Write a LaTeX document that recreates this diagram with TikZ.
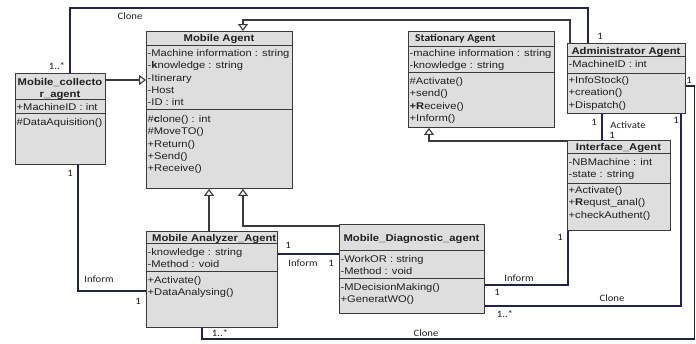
\documentclass[tikz,border=0pt]{standalone}
\usepackage{fontspec}
\setmainfont{Liberation Sans}[FakeStretch=1.15]
\newfontfamily\lblfont{Carlito}[FakeStretch=1.1]
\usetikzlibrary{arrows.meta}
\definecolor{boxfill}{HTML}{DEDEDE}
\definecolor{boxline}{HTML}{3A3A3A}
\definecolor{navy}{HTML}{1E2352}
\definecolor{txt}{HTML}{202020}
\tikzset{
  umlbox/.style={draw=boxline, fill=boxfill, line width=0.9pt, inner sep=0pt, anchor=north west},
  sepline/.style={draw=boxline, line width=0.9pt},
  hdr/.style={font=\fontsize{9.8}{11.5}\selectfont\bfseries, text=txt, inner sep=0pt, align=center},
  body/.style={font=\fontsize{9.7}{12.3}\selectfont, text=txt, inner sep=0pt, anchor=north west, align=left},
  assoc/.style={draw=navy, line width=1.1pt},
  gen/.style={draw=boxline, line width=1.1pt, -{Triangle[open,length=7pt,width=10pt,fill=white]}},
  lbl/.style={font=\lblfont\fontsize{9.7}{10}\selectfont, text=txt, inner sep=0pt},
}
\begin{document}
\begin{tikzpicture}[x=1pt,y=-1pt]
\useasboundingbox[fill=white] (0,0) rectangle (696,343);

% boxes as named nodes
\node[umlbox, minimum width=90pt,  minimum height=91pt] (mc) at (15,73) {};
\node[umlbox, minimum width=146pt, minimum height=157pt] (ma) at (146,31) {};
\node[umlbox, minimum width=146pt, minimum height=96pt] (sa) at (408,31) {};
\node[umlbox, minimum width=118pt, minimum height=70pt] (ad) at (567,43) {};
\node[umlbox, minimum width=103pt, minimum height=90pt] (ia) at (567,140) {};
\node[umlbox, minimum width=131pt, minimum height=96pt] (an) at (146,231) {};
\node[umlbox, minimum width=145pt, minimum height=89pt] (md) at (339,224) {};

% Clone: collector -> administrator (top)
\draw[assoc] ([xshift=55pt]mc.north west) -- ++(0,-65) -| ([xshift=21pt]ad.north west);
% generalization: administrator -> mobile agent
\draw[gen] ([xshift=3pt]ad.north west) -- ++(0,-23) -| ([xshift=97pt]ma.north west);
% generalization: collector -> mobile agent
\draw[gen] ([yshift=-7pt]mc.north east) -- ([yshift=-49pt]ma.north west);
% Inform: collector -> analyzer
\draw[assoc] ([xshift=63pt]mc.south west) |- ([yshift=-60pt]an.north west);
% generalization: analyzer -> mobile agent
\draw[gen] ([xshift=63pt]an.north west) -- ([xshift=63pt]ma.south west);
% generalization: diagnostic -> mobile agent
\draw[gen] ([yshift=-2pt]md.north west) -| ([xshift=97pt]ma.south west);
% Inform: analyzer -- diagnostic
\draw[assoc] ([yshift=-23pt]an.north east) -- ([yshift=-30pt]md.north west);
% Inform: diagnostic -- interface
\draw[assoc] ([yshift=-61pt]md.north east) -| ([xshift=1pt]ia.south west);
% Clone: diagnostic -- administrator
\draw[assoc] ([yshift=-82pt]md.north east) -| ([xshift=114pt]ad.south west);
% Activate: administrator -- interface
\draw[assoc] ([xshift=35pt]ad.south west) -- ([xshift=35pt]ia.north west);
% Clone: administrator -- analyzer (around the right and bottom)
\coordinate (rc) at (694.5,339);
\draw[assoc] ([yshift=-43pt]ad.north east) -| (rc) -| ([xshift=56pt]an.south west);
% generalization: interface -> stationary
\draw[gen] ([yshift=-1pt]ia.north west) -| ([xshift=21pt]sa.south west);

% redraw boxes on top of connectors
\node[umlbox, minimum width=90pt,  minimum height=91pt] (mcb) at (15,73) {};
\node[umlbox, minimum width=146pt, minimum height=157pt] (mab) at (146,31) {};
\node[umlbox, minimum width=146pt, minimum height=96pt] (sab) at (408,31) {};
\node[umlbox, minimum width=118pt, minimum height=70pt] (adb) at (567,43) {};
\node[umlbox, minimum width=103pt, minimum height=90pt] (iab) at (567,140) {};
\node[umlbox, minimum width=131pt, minimum height=96pt] (anb) at (146,231) {};
\node[umlbox, minimum width=145pt, minimum height=89pt] (mdb) at (339,224) {};

% compartments
\draw[sepline] (15,99) -- (105,99);   \draw[sepline] (15,113) -- (105,113);
\draw[sepline] (146,45) -- (292,45);  \draw[sepline] (146,109) -- (292,109);
\draw[sepline] (408,46) -- (554,46);  \draw[sepline] (408,72) -- (554,72);
\draw[sepline] (567,56) -- (685,56);  \draw[sepline] (567,73) -- (685,73);
\draw[sepline] (567,153) -- (670,153); \draw[sepline] (567,183) -- (670,183);
\draw[sepline] (146,243) -- (277,243); \draw[sepline] (146,271) -- (277,271);
\draw[sepline] (339,250) -- (484,250); \draw[sepline] (339,278) -- (484,278);

% Mobile_collector_agent
\node[hdr, anchor=north] (mc-h) at (60,78.2) {Mobile\_collecto\\r\_agent};
\node[body] (mc-a) at (16.5,103.4) {+MachineID : int};
\node[body] (mc-m) at (16.5,118.4) {\#DataAquisition()};
% Mobile Agent
\node[hdr, anchor=base] (ma-h) at (219,41.4) {Mobile Agent};
\node[body] (ma-a) at (147.5,49.4) {-Machine information : string\\-\textbf{k}nowledge : string\\-Itinerary\\-Host\\-ID : int};
\node[body] (ma-m) at (147.5,115.4) {\#\textbf{c}lone() : int\\\#MoveTO()\\+Return()\\+Send()\\+Receive()};
% Stationary Agent
\node[hdr, anchor=base west, font=\lblfont\fontsize{10.5}{12}\selectfont\bfseries] (sa-h) at (415,41.4) {Stationary Agent};
\node[body] (sa-a) at (409.5,49.4) {-machine information : string\\-knowledge : string};
\node[body] (sa-m) at (409.5,77.4) {\#Activate()\\+send()\\\textbf{+R}eceive()\\+Inform()};
% Administrator Agent
\node[hdr, anchor=base] (ad-h) at (626,54.4) {Administrator Agent};
\node[body] (ad-a) at (568.5,60.4) {-MachineID : int};
\node[body] (ad-m) at (568.5,76.4) {+InfoStock()\\+creation()\\+Dispatch()};
% Interface_Agent
\node[hdr, anchor=base] (ia-h) at (618.5,150.4) {Interface\_Agent};
\node[body] (ia-a) at (568.5,158.4) {-NBMachine : int\\-state : string};
\node[body] (ia-m) at (568.5,186.4) {+Activate()\\+\textbf{R}equst\_anal()\\+checkAuthent()};
% Mobile Analyzer_Agent
\node[hdr, anchor=base west] (an-h) at (152,241.4) {Mobile Analyzer\_Agent};
\node[body] (an-a) at (147.5,248.4) {-knowledge : string\\-Method : void};
\node[body] (an-m) at (147.5,276.4) {+Activate()\\+DataAnalysing()};
% Mobile_Diagnostic_agent
\node[hdr, anchor=base] (md-h) at (411.5,241.4) {Mobile\_Diagnostic\_agent};
\node[body] (md-a) at (340.5,255.4) {-WorkOR : string\\-Method : void};
\node[body] (md-m) at (340.5,283.4) {-MDecisionMaking()\\+GeneratWO()};

% connector labels
\node[lbl] (l1) at (130,16) {Clone};
\node[lbl] (l2) at (57,66) {1..*};
\node[lbl] (l3) at (600,36) {1};
\node[lbl] (l4) at (70,173) {1};
\node[lbl] (l5) at (99,279) {Inform};
\node[lbl] (l6) at (138,301) {1};
\node[lbl] (l7) at (288,245) {1};
\node[lbl] (l8) at (303,263) {Inform};
\node[lbl] (l9) at (331,263) {1};
\node[lbl] (l10) at (519,278) {Inform};
\node[lbl] (l11) at (497,292) {1};
\node[lbl] (l12) at (560,237) {1};
\node[lbl] (l13) at (505,314) {1..*};
\node[lbl] (l14) at (612,298) {Clone};
\node[lbl] (l15) at (676,120) {1};
\node[lbl] (l16) at (594,122) {1};
\node[lbl] (l17) at (628,125) {Activate};
\node[lbl] (l18) at (612,135) {1};
\node[lbl] (l19) at (689,80) {1};
\node[lbl] (l20) at (220,333) {1..*};
\node[lbl] (l21) at (426,333) {Clone};
\end{tikzpicture}
\end{document}
